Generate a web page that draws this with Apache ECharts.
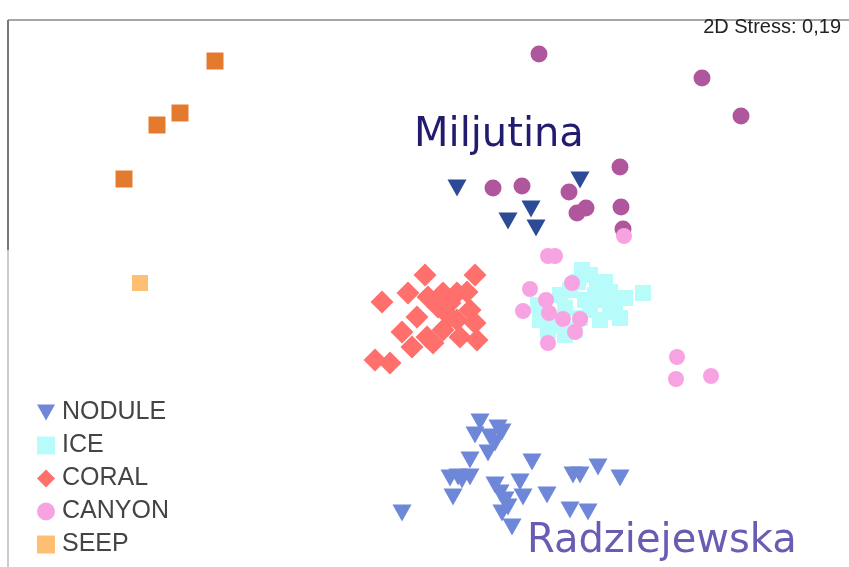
<!DOCTYPE html>
<html><head><meta charset="utf-8">
<script src="https://cdn.jsdelivr.net/npm/echarts@6/dist/echarts.min.js"></script>
<style>html,body{margin:0;padding:0;background:#fff}#c{width:849px;height:567px}</style>
</head><body><div id="c"></div>
<script>
// NMDS ordination coordinates (in plot units: x 0..849, y 0..567 top-down)
var nodule = [[480,422],[498,428],[475,435],[490,437],[495,443],[502,432],[488,453],[470,460],[532,462],[450,478],[458,477],[470,477],[453,497],[495,485],[500,493],[520,482],[523,497],[547,495],[505,500],[508,507],[502,513],[512,527],[573,475],[580,475],[598,467],[620,478],[570,510],[588,512],[402,513],[462,480]];
var ice = [[582,270],[578,282],[597,285],[610,292],[600,300],[615,305],[590,310],[620,318],[560,295],[540,320],[555,325],[575,330],[600,320],[585,300],[605,282],[565,308],[643,293],[625,298],[570,290],[590,275],[548,330],[565,335],[610,312],[580,318],[595,295],[538,305]];
var coral = [[425,275],[475,275],[382,302],[408,293],[428,297],[443,293],[457,293],[467,292],[417,317],[438,307],[470,310],[450,317],[402,332],[427,337],[443,330],[460,337],[477,340],[412,347],[375,360],[390,363],[433,343],[457,320],[475,323],[450,303]];
var canyon = [[548,256],[555,256],[572,283],[530,289],[523,311],[546,300],[549,313],[563,319],[580,319],[575,332],[548,343],[677,357],[676,379],[711,376],[624,236]];
var seep = [[140,283]];
var miljNodule = [[457,188],[580,180],[508,221],[531,209],[536,228]];
var miljCanyon = [[539,54],[702,78],[741,116],[620,167],[493,188],[522,186],[569,192],[577,213],[586,208],[621,207],[623,229]];
var miljSeep = [[215,61],[180,113],[157,125],[124,179]];
var legendNames = ['NODULE','ICE','CORAL','CANYON','SEEP'];

var tri = 'path://M0,0 L10,0 L5,9 Z';
var chart = echarts.init(document.getElementById('c'));
function s(name, data, symbol, size, color, z) {
  return {name:name, type:'scatter', data:data, symbol:symbol, symbolSize:size, z:z,
    itemStyle:{color:color, opacity:1}, emphasis:{disabled:true}, animation:false};
}
chart.setOption({
  animation:false,
  grid:{left:0, right:0, top:0, bottom:0},
  xAxis:{type:'value', min:0, max:849, show:false},
  yAxis:{type:'value', min:0, max:567, inverse:true, show:false},
  legend:{data:legendNames.map(function(n){return {name:n};}), orient:'vertical', left:32, top:395, height:170,
    itemWidth:18, itemHeight:18, itemGap:8, textStyle:{fontFamily:'Liberation Sans', fontSize:25, lineHeight:24, color:'#444', padding:[0,0,0,2]}},
  graphic:[
    {type:'line', shape:{x1:8, y1:20, x2:849, y2:20}, style:{stroke:'#888', lineWidth:1.5}},
    {type:'line', shape:{x1:8, y1:20, x2:8, y2:250}, style:{stroke:'#777', lineWidth:2}},
    {type:'line', shape:{x1:8, y1:250, x2:8, y2:567}, style:{stroke:'#bbb', lineWidth:1.5}},
    {type:'text', right:8, top:17, style:{text:'2D Stress: 0,19', font:'20px "Liberation Sans"', fill:'#222'}},
    {type:'text', left:414, top:116, style:{text:'Miljutina', font:'40px "DejaVu Sans"', fill:'#221c6e'}},
    {type:'text', left:527, top:522, style:{text:'Radziejewska', font:'40px "DejaVu Sans"', fill:'#6b5bb3'}}
  ],
  series:[
    s('miljCanyon', miljCanyon, 'circle', 17, '#b0569d', 2),
    s('miljNodule', miljNodule, tri, [19,17], '#2c4a95', 3),
    s('miljSeep', miljSeep, 'rect', 17, '#e47a2e', 2),
    s('ICE', ice, 'rect', 16, '#b8fbfb', 2),
    s('CORAL', coral, 'diamond', 23, '#ff6f6b', 3),
    s('CANYON', canyon, 'circle', 16, '#f7a3e2', 4),
    s('SEEP', seep, 'rect', 16, '#ffbf73', 4),
    s('NODULE', nodule, tri, [19,17], '#6f87d8', 5)
  ]
});
</script></body></html>
